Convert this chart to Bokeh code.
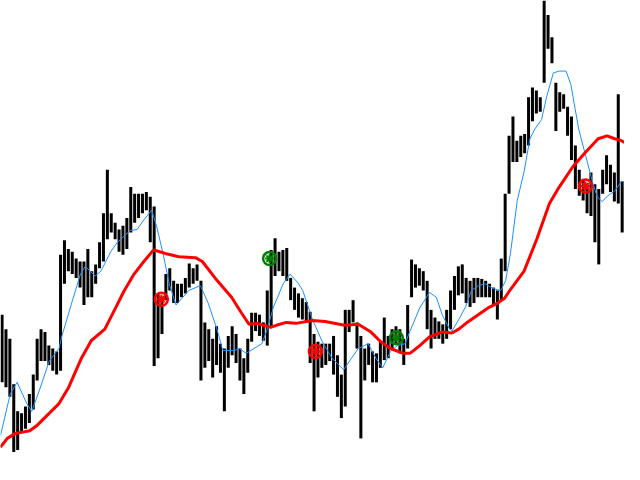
from bokeh.plotting import figure
from bokeh.models import Range1d, ColumnDataSource
from bokeh.embed import file_html
from bokeh.resources import INLINE

# Price bars (one per bar index): high / low, arbitrary price units
bar_high = [155, 140, 130, 83, 55, 53, 60, 73, 93, 130, 140, 137, 123, 120, 117, 217,
            232, 223, 220, 213, 210, 210, 223, 200, 207, 230, 260, 305, 260, 250, 243, 247,
            255, 287, 280, 280, 280, 282, 277, 267, 177, 173, 197, 203, 190, 187, 187, 193,
            208, 203, 207, 190, 147, 140, 130, 143, 125, 120, 133, 143, 135, 120, 110, 130,
            157, 157, 155, 147, 180, 222, 234, 220, 222, 224, 193, 183, 177, 172, 168, 158,
            135, 127, 125, 125, 125, 133, 113, 93, 160, 160, 170, 147, 133, 120, 125, 117,
            115, 127, 152, 133, 140, 143, 140, 130, 165, 212, 207, 203, 200, 190, 160, 152,
            148, 145, 160, 180, 195, 205, 207, 193, 190, 193, 193, 192, 190, 187, 183, 180,
            213, 280, 340, 360, 335, 340, 342, 380, 390, 387, 380, 480, 465, 442, 395, 385,
            383, 370, 360, 330, 305, 295, 290, 302, 290, 285, 305, 320, 310, 302, 383, 293]
bar_low = [85, 80, 70, 13, 15, 33, 37, 43, 57, 87, 107, 107, 103, 97, 93, 97,
           187, 200, 197, 193, 183, 165, 173, 173, 187, 203, 210, 233, 240, 233, 220, 217,
           223, 240, 250, 255, 260, 263, 230, 102, 110, 135, 170, 180, 167, 167, 173, 177,
           183, 187, 190, 87, 100, 107, 90, 103, 95, 55, 100, 113, 105, 87, 73, 95,
           127, 138, 133, 128, 123, 143, 195, 200, 195, 190, 170, 160, 152, 150, 147, 105,
           55, 90, 100, 103, 107, 93, 70, 48, 60, 137, 147, 120, 27, 87, 103, 85,
           85, 100, 108, 110, 120, 125, 115, 103, 120, 173, 183, 185, 180, 140, 120, 130,
           130, 125, 130, 140, 160, 175, 177, 167, 163, 167, 173, 173, 173, 173, 165, 150,
           170, 200, 280, 313, 313, 318, 322, 330, 355, 363, 365, 395, 430, 415, 345, 365,
           368, 340, 315, 285, 278, 273, 260, 257, 230, 207, 280, 290, 282, 272, 270, 240]
bar_idx = list(range(len(bar_high)))

# Fast moving average (blue)
fast_x = [0, 2.5, 4.25, 6.75, 8, 10, 12.5, 15, 15.75, 18.25, 20.5, 21.75, 24.25, 25.75, 28.25,
          30, 33.25, 35, 36.75, 38.75, 40, 41.75, 43.25, 45, 46.75, 48.25, 51.25, 53.25, 55.5,
          57, 60, 61.25, 63, 65, 67, 68.25, 70, 72.5, 74.25, 76.25, 77.5, 80, 82.5, 85, 88,
          90, 91.75, 94.25, 96.25, 98, 100, 101.75, 103.75, 105, 107.5, 110, 111.75, 113.25,
          115, 115.75, 117.5, 119.25, 120.75, 122.5, 124.25, 126.25, 128.25, 129.5, 130.75,
          132.5, 134.25, 135.75, 137, 138.75, 140, 141.75, 143.25, 145, 146.25, 148.25, 150,
          151.75, 153, 154.25, 155.75, 157.5, 159.25, 160]
fast_ma = [30, 73, 85, 63, 55, 77, 107, 120, 133, 167, 197, 205, 195, 200, 220,
           230, 242, 243, 253, 263, 247, 217, 187, 165, 173, 180, 185, 167, 140,
           118, 118, 120, 115, 120, 125, 138, 163, 187, 197, 188, 180, 150, 127, 110, 98,
           110, 120, 125, 110, 100, 117, 123, 125, 138, 162, 178, 173, 155,
           141, 138, 150, 163, 180, 185, 187, 182, 180, 190, 218,
           273, 303, 337, 347, 357, 380, 405, 407, 407, 393, 347, 320,
           293, 277, 272, 278, 283, 293, 292]

# Slow moving average (red)
slow_x = [0, 1.75, 3.75, 5, 7.5, 9.25, 11.75, 15, 17.5, 20.75, 23.25, 26.75, 29.25, 31.75,
          34.25, 36.75, 39.25, 42.5, 45.75, 50, 51.75, 55, 59.25, 61.75, 63.75, 65.75, 69.25,
          70.75, 73.25, 75.75, 80, 83.25, 88.25, 91.75, 95, 97.5, 100, 103.25, 105, 107.5,
          110, 113.25, 115.75, 117.5, 120, 122.5, 125, 127.5, 129.25, 130.75, 134.25, 137.5,
          140.75, 143.25, 146.75, 150, 153.25, 155.5, 157.5, 159.25, 160]
slow_ma = [18, 27, 32, 33, 35, 40, 50, 63, 80, 110, 128, 140, 160, 180,
           197, 210, 222, 218, 215, 214, 210, 193, 173, 157, 145, 146, 142,
           144, 147, 146, 149, 148, 144, 145, 137, 127, 120, 115, 115, 123,
           132, 137, 136, 140, 148, 155, 162, 167, 172, 181, 200, 233,
           270, 287, 308, 323, 337, 340, 337, 335, 333]

# Signals
sell_x = [41.25, 80.75, 150]
sell_y = [171, 117, 288]
buy_x = [69, 101.5]
buy_y = [213, 131]

p = figure(width=624, height=464, output_backend="svg", toolbar_location=None,
           x_range=Range1d(0, 160), y_range=Range1d(0, 480), min_border=0,
           background_fill_color="white", border_fill_color="white")
p.xaxis.visible = False
p.yaxis.visible = False
p.grid.visible = False
p.outline_line_color = None

src = ColumnDataSource(dict(x=[i + 0.4 for i in bar_idx], hi=bar_high, lo=bar_low))
p.segment(x0="x", y0="lo", x1="x", y1="hi", source=src, line_color="black", line_width=3)

p.line(fast_x, fast_ma, line_color="#1E90FF", line_width=1)
p.line(slow_x, slow_ma, line_color="#FF0000", line_width=3)

for xs, ys, col in ((sell_x, sell_y, "#FF0000"), (buy_x, buy_y, "#008000")):
    p.scatter(xs, ys, marker="circle", size=13, fill_color=None, line_color=col, line_width=2.5)
    p.scatter(xs, ys, marker="asterisk", size=9, line_color=col, line_width=2)

open("out.html", "w").write(file_html(p, INLINE))
